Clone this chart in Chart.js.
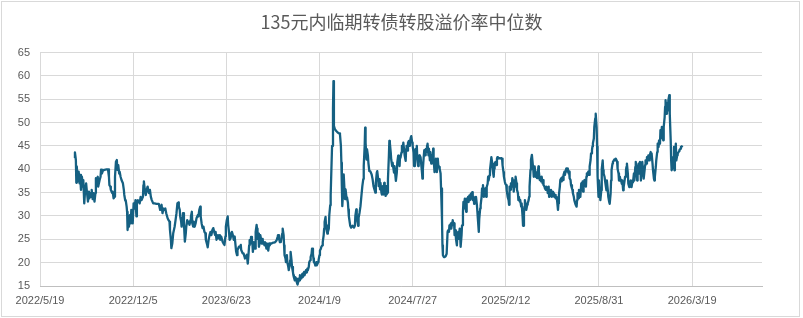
<!DOCTYPE html>
<html>
<head>
<meta charset="utf-8">
<script src="https://cdn.jsdelivr.net/npm/chart.js@4"></script>
<style>
  body { margin: 0; background: #fff; }
  #wrap { position: relative; width: 803px; height: 318px; }
  #frame { position: absolute; left: 1px; top: 1px; width: 799px; height: 316px; box-sizing: border-box; border: 1px solid #d9d9d9; pointer-events: none; }
  canvas { position: absolute; left: 0; top: 0; }
</style>
</head>
<body>
<div id="wrap">
  <canvas id="line_chart" width="803" height="318"></canvas>
  <div id="frame"></div>
</div>
<script>
var title = '135元内临期转债转股溢价率中位数';

// x axis starts on 2022/5/19, one label every 200 days
var axisStart = '2022/5/19';
var tickStep = 200;
var axisDays = 1550;

var yMin = 15;
var yMax = 65;
var yStep = 5;

var dates = [
  '2022/8/1','2022/8/2','2022/8/4','2022/8/5','2022/8/6','2022/8/8','2022/8/10','2022/8/12','2022/8/13','2022/8/15','2022/8/17','2022/8/19','2022/8/20','2022/8/22','2022/8/24','2022/8/26','2022/8/28','2022/8/30',
  '2022/9/1','2022/9/2','2022/9/4','2022/9/6','2022/9/7','2022/9/9','2022/9/11','2022/9/13','2022/9/15','2022/9/16','2022/9/18','2022/9/20','2022/9/21','2022/9/24','2022/9/26','2022/9/27','2022/9/29',
  '2022/10/1','2022/10/4','2022/10/9','2022/10/12','2022/10/14','2022/10/15','2022/10/17','2022/10/18','2022/10/21','2022/10/22','2022/10/24','2022/10/26','2022/10/27','2022/10/29','2022/10/31',
  '2022/11/1','2022/11/3','2022/11/5','2022/11/6','2022/11/8','2022/11/10','2022/11/13','2022/11/15','2022/11/16','2022/11/18','2022/11/19','2022/11/21','2022/11/22','2022/11/23','2022/11/25','2022/11/26','2022/11/28','2022/11/30',
  '2022/12/1','2022/12/3','2022/12/4','2022/12/6','2022/12/8','2022/12/10','2022/12/12','2022/12/13','2022/12/15','2022/12/17','2022/12/19','2022/12/21','2022/12/23','2022/12/26','2022/12/27','2022/12/28','2022/12/30',
  '2023/1/1','2023/1/3','2023/1/5','2023/1/7','2023/1/8','2023/1/10','2023/1/12','2023/1/14','2023/1/17','2023/1/20','2023/1/24','2023/1/29',
  '2023/2/1','2023/2/4','2023/2/6','2023/2/8','2023/2/10','2023/2/12','2023/2/14','2023/2/17','2023/2/19','2023/2/21','2023/2/22','2023/2/24','2023/2/25','2023/2/27',
  '2023/3/1','2023/3/4','2023/3/6','2023/3/8','2023/3/10','2023/3/12','2023/3/13','2023/3/15','2023/3/16','2023/3/18','2023/3/19','2023/3/21','2023/3/22','2023/3/24','2023/3/26','2023/3/28','2023/3/29','2023/3/31',
  '2023/4/2','2023/4/4','2023/4/5','2023/4/7','2023/4/8','2023/4/10','2023/4/11','2023/4/13','2023/4/14','2023/4/16','2023/4/18','2023/4/20','2023/4/23','2023/4/24','2023/4/26','2023/4/28','2023/4/29',
  '2023/5/1','2023/5/3','2023/5/5','2023/5/7','2023/5/9','2023/5/10','2023/5/13','2023/5/14','2023/5/16','2023/5/18','2023/5/20','2023/5/22','2023/5/24','2023/5/26','2023/5/28','2023/5/30','2023/5/31',
  '2023/6/2','2023/6/5','2023/6/7','2023/6/9','2023/6/10','2023/6/12','2023/6/15','2023/6/17','2023/6/19','2023/6/21','2023/6/22','2023/6/24','2023/6/26','2023/6/27','2023/6/29','2023/6/30',
  '2023/7/2','2023/7/5','2023/7/7','2023/7/9','2023/7/11','2023/7/12','2023/7/14','2023/7/16','2023/7/17','2023/7/20','2023/7/22','2023/7/24','2023/7/25','2023/7/28','2023/7/30',
  '2023/8/1','2023/8/2','2023/8/4','2023/8/6','2023/8/8','2023/8/9','2023/8/11','2023/8/12','2023/8/14','2023/8/15','2023/8/17','2023/8/18','2023/8/19','2023/8/21','2023/8/22','2023/8/24','2023/8/25','2023/8/27','2023/8/28','2023/8/29','2023/8/31',
  '2023/9/1','2023/9/3','2023/9/4','2023/9/6','2023/9/7','2023/9/9','2023/9/10','2023/9/11','2023/9/13','2023/9/14','2023/9/16','2023/9/17','2023/9/18','2023/9/20','2023/9/21','2023/9/23','2023/9/24','2023/9/26','2023/9/28','2023/9/30',
  '2023/10/2','2023/10/4','2023/10/6','2023/10/9','2023/10/11','2023/10/12','2023/10/14','2023/10/15','2023/10/16','2023/10/18','2023/10/19','2023/10/21','2023/10/22','2023/10/24','2023/10/25','2023/10/26','2023/10/28','2023/10/29','2023/10/31',
  '2023/11/1','2023/11/3','2023/11/4','2023/11/6','2023/11/7','2023/11/8','2023/11/10','2023/11/11','2023/11/13','2023/11/14','2023/11/15','2023/11/17','2023/11/18','2023/11/20','2023/11/21','2023/11/23','2023/11/24','2023/11/25','2023/11/27','2023/11/28','2023/11/30',
  '2023/12/1','2023/12/3','2023/12/4','2023/12/6','2023/12/7','2023/12/8','2023/12/10','2023/12/11','2023/12/13','2023/12/14','2023/12/15','2023/12/17','2023/12/18','2023/12/20','2023/12/21','2023/12/23','2023/12/24','2023/12/26','2023/12/27','2023/12/28','2023/12/30','2023/12/31',
  '2024/1/2','2024/1/3','2024/1/5','2024/1/6','2024/1/7','2024/1/9','2024/1/10','2024/1/12','2024/1/13','2024/1/15','2024/1/16','2024/1/18','2024/1/19','2024/1/20','2024/1/22','2024/1/23','2024/1/25','2024/1/26','2024/1/27','2024/1/29','2024/1/30',
  '2024/2/1','2024/2/2','2024/2/5','2024/2/7','2024/2/8','2024/2/9','2024/2/11','2024/2/14','2024/2/17','2024/2/20','2024/2/22','2024/2/24','2024/2/25','2024/2/26','2024/2/27','2024/2/29',
  '2024/3/1','2024/3/3','2024/3/4','2024/3/5','2024/3/7','2024/3/8','2024/3/10','2024/3/11','2024/3/12','2024/3/14','2024/3/15','2024/3/17','2024/3/18','2024/3/20','2024/3/23','2024/3/25','2024/3/26','2024/3/28','2024/3/29','2024/3/31',
  '2024/4/1','2024/4/2','2024/4/4','2024/4/6','2024/4/8','2024/4/10','2024/4/12','2024/4/13','2024/4/15','2024/4/16','2024/4/17','2024/4/19','2024/4/20','2024/4/22','2024/4/23','2024/4/25','2024/4/27','2024/4/30',
  '2024/5/2','2024/5/4','2024/5/6','2024/5/8','2024/5/9','2024/5/11','2024/5/12','2024/5/14','2024/5/15','2024/5/17','2024/5/18','2024/5/19','2024/5/21','2024/5/22','2024/5/24','2024/5/25','2024/5/27','2024/5/28','2024/5/30','2024/5/31',
  '2024/6/1','2024/6/3','2024/6/4','2024/6/6','2024/6/7','2024/6/8','2024/6/10','2024/6/11','2024/6/13','2024/6/14','2024/6/16','2024/6/17','2024/6/18','2024/6/20','2024/6/21','2024/6/23','2024/6/24','2024/6/26','2024/6/27','2024/6/29','2024/6/30',
  '2024/7/1','2024/7/3','2024/7/4','2024/7/6','2024/7/7','2024/7/8','2024/7/10','2024/7/12','2024/7/13','2024/7/14','2024/7/16','2024/7/17','2024/7/19','2024/7/20','2024/7/21','2024/7/23','2024/7/24','2024/7/26','2024/7/27','2024/7/29','2024/7/30',
  '2024/8/1','2024/8/2','2024/8/3','2024/8/5','2024/8/6','2024/8/8','2024/8/9','2024/8/11','2024/8/13','2024/8/16','2024/8/17','2024/8/18','2024/8/20','2024/8/21','2024/8/23','2024/8/24','2024/8/26','2024/8/27','2024/8/28','2024/8/30','2024/8/31',
  '2024/9/2','2024/9/3','2024/9/5','2024/9/6','2024/9/8','2024/9/9','2024/9/10','2024/9/12','2024/9/13','2024/9/15','2024/9/16','2024/9/17','2024/9/19','2024/9/20','2024/9/22','2024/9/23','2024/9/25','2024/9/26','2024/9/28','2024/9/29','2024/9/30',
  '2024/10/2','2024/10/4','2024/10/6','2024/10/8','2024/10/10','2024/10/11','2024/10/13','2024/10/14','2024/10/15','2024/10/17','2024/10/18','2024/10/20','2024/10/21','2024/10/23','2024/10/24','2024/10/25','2024/10/27','2024/10/28','2024/10/30','2024/10/31',
  '2024/11/2','2024/11/3','2024/11/5','2024/11/6','2024/11/7','2024/11/9','2024/11/10','2024/11/12','2024/11/13','2024/11/14','2024/11/16','2024/11/17','2024/11/19','2024/11/20','2024/11/22','2024/11/23','2024/11/24','2024/11/26','2024/11/27','2024/11/29','2024/11/30',
  '2024/12/2','2024/12/3','2024/12/5','2024/12/6','2024/12/7','2024/12/9','2024/12/10','2024/12/12','2024/12/13','2024/12/14','2024/12/16','2024/12/17','2024/12/19','2024/12/20','2024/12/22','2024/12/23','2024/12/25','2024/12/26','2024/12/27','2024/12/29','2024/12/30',
  '2025/1/1','2025/1/2','2025/1/4','2025/1/5','2025/1/6','2025/1/8','2025/1/9','2025/1/11','2025/1/12','2025/1/14','2025/1/15','2025/1/17','2025/1/18','2025/1/19','2025/1/21','2025/1/22','2025/1/24','2025/1/25','2025/1/26','2025/1/29','2025/1/31',
  '2025/2/2','2025/2/4','2025/2/5','2025/2/7','2025/2/8','2025/2/10','2025/2/11','2025/2/13','2025/2/14','2025/2/16','2025/2/18','2025/2/19','2025/2/20','2025/2/22','2025/2/23','2025/2/25','2025/2/26','2025/2/28',
  '2025/3/1','2025/3/3','2025/3/4','2025/3/5','2025/3/7','2025/3/8','2025/3/10','2025/3/11','2025/3/12','2025/3/14','2025/3/15','2025/3/17','2025/3/18','2025/3/20','2025/3/21','2025/3/23','2025/3/24','2025/3/25','2025/3/27','2025/3/28','2025/3/30','2025/3/31',
  '2025/4/2','2025/4/3','2025/4/4','2025/4/6','2025/4/7','2025/4/9','2025/4/10','2025/4/12','2025/4/13','2025/4/15','2025/4/16','2025/4/17','2025/4/19','2025/4/20','2025/4/22','2025/4/23','2025/4/24','2025/4/26','2025/4/27','2025/4/29','2025/4/30',
  '2025/5/2','2025/5/3','2025/5/4','2025/5/6','2025/5/7','2025/5/9','2025/5/10','2025/5/12','2025/5/13','2025/5/15','2025/5/16','2025/5/17','2025/5/19','2025/5/20','2025/5/22','2025/5/23','2025/5/24','2025/5/26','2025/5/27','2025/5/29','2025/5/30',
  '2025/6/1','2025/6/2','2025/6/4','2025/6/5','2025/6/6','2025/6/8','2025/6/9','2025/6/11','2025/6/12','2025/6/14','2025/6/15','2025/6/16','2025/6/18','2025/6/19','2025/6/21','2025/6/22','2025/6/24','2025/6/25','2025/6/27','2025/6/28','2025/6/29',
  '2025/7/1','2025/7/2','2025/7/4','2025/7/5','2025/7/6','2025/7/8','2025/7/9','2025/7/11','2025/7/12','2025/7/14','2025/7/15','2025/7/16','2025/7/18','2025/7/19','2025/7/21','2025/7/22','2025/7/24','2025/7/25','2025/7/27','2025/7/28','2025/7/29','2025/7/31',
  '2025/8/1','2025/8/3','2025/8/4','2025/8/5','2025/8/7','2025/8/8','2025/8/10','2025/8/11','2025/8/13','2025/8/14','2025/8/16','2025/8/17','2025/8/18','2025/8/20','2025/8/21','2025/8/23','2025/8/24','2025/8/26','2025/8/27','2025/8/28','2025/8/30','2025/8/31',
  '2025/9/2','2025/9/3','2025/9/5','2025/9/6','2025/9/8','2025/9/9','2025/9/10','2025/9/12','2025/9/13','2025/9/15','2025/9/16','2025/9/17','2025/9/19','2025/9/20','2025/9/22','2025/9/23','2025/9/25','2025/9/26','2025/9/27','2025/9/29','2025/9/30',
  '2025/10/2','2025/10/3','2025/10/5','2025/10/6','2025/10/8','2025/10/9','2025/10/10','2025/10/12','2025/10/13','2025/10/15','2025/10/16','2025/10/17','2025/10/19','2025/10/20','2025/10/22','2025/10/23','2025/10/25','2025/10/26','2025/10/28','2025/10/29','2025/10/30',
  '2025/11/1','2025/11/2','2025/11/4','2025/11/5','2025/11/7','2025/11/8','2025/11/9','2025/11/11','2025/11/12','2025/11/14','2025/11/15','2025/11/17','2025/11/18','2025/11/20','2025/11/21','2025/11/22','2025/11/24','2025/11/25','2025/11/27','2025/11/28','2025/11/29',
  '2025/12/1','2025/12/2','2025/12/4','2025/12/5','2025/12/7','2025/12/8','2025/12/9','2025/12/11','2025/12/12','2025/12/14','2025/12/15','2025/12/17','2025/12/18','2025/12/20','2025/12/21','2025/12/22','2025/12/24','2025/12/25','2025/12/27','2025/12/28','2025/12/29','2025/12/31',
  '2026/1/1','2026/1/3','2026/1/4','2026/1/6','2026/1/7','2026/1/9','2026/1/10','2026/1/11','2026/1/13','2026/1/14','2026/1/16','2026/1/17','2026/1/19','2026/1/20','2026/1/21','2026/1/23','2026/1/24','2026/1/26','2026/1/27','2026/1/29','2026/1/30',
  '2026/2/1','2026/2/2','2026/2/3','2026/2/5','2026/2/6','2026/2/8','2026/2/9','2026/2/10','2026/2/12','2026/2/13','2026/2/15','2026/2/16','2026/2/18','2026/2/19','2026/2/20','2026/2/22','2026/2/23','2026/2/25','2026/2/26'
];

var premium = [
  42.4,43.6,42,37.1,40.6,37.4,39.5,37,38.8,35.6,38.4,36.3,37.7,32.7,35.6,37,34.9,33.1,
  35.2,33.8,34.9,34.1,35.6,33.6,34.9,33.1,34.9,38.1,37,38.4,36.3,37.7,38.4,39.9,39.1,
  39.7,39.9,40,40,38.4,36.6,36.3,35.6,34.9,35.2,33.8,34.1,38.4,41.6,42,
  39.9,40.9,39.1,39.5,38.4,37.7,37,35.6,34.5,33.3,33.4,32,30.9,27,29.1,27.7,30.2,28.4,
  31.3,29.1,28.4,32.7,31.6,33.4,29.9,33.1,33.4,33.1,32.7,34.1,33.4,34.1,36.6,37.4,35.6,
  34.5,35.6,36.3,35.2,34.9,35.6,34.1,33.4,32.7,32.7,32.6,32.6,
  31.3,32.4,30.6,31.6,31.3,31.6,30.6,29.5,29.1,28.8,27,24.9,23.1,24.1,
  26.3,27.7,29.1,30.6,32.7,32.9,32,31.3,29.9,28.8,27.7,29.1,30.6,28.4,24.5,26.3,27.7,29.1,
  28.4,28.8,28.1,29.1,29.9,30.9,28.4,27.7,28.8,27.7,28.4,29.5,30.2,29.9,31.3,32,29.9,
  28.4,27.4,27.7,26.6,26.3,24.9,23.8,23.3,24.9,25.9,26.6,25.9,27,27.4,26.6,25.9,26.6,
  24.9,25.9,25.2,25.9,24.9,25.6,24.5,24.1,23.8,25.6,27.7,29.1,29.9,28.1,26.3,24.9,
  25.2,26.6,25.9,24.9,25.6,24.5,22.4,21.6,22.7,23.4,23.3,23.8,22.7,22,22,
  21.3,20.9,21.2,21.7,19.8,20.9,23.7,24.8,24.1,25.5,24.4,24.1,22.3,24.4,23.7,23,26.6,28.1,27.3,25.1,26.2,
  23.4,24.4,25.9,24.8,24.1,25.1,24.1,24.4,23.7,24.4,23.7,23,24.1,23.4,22.6,24.1,23.7,24.1,24.1,24.2,
  24.3,24.3,24.4,24.8,25.5,25.9,25.1,24.8,24.4,24.4,25.1,26.2,27.3,25.9,23.7,21.6,20.9,20.1,21.6,
  20.1,19.1,18.4,19.4,20.5,22.3,20.5,19.1,18,17.3,16.9,16.2,16.9,16.6,15.9,15.3,15.9,16.6,16.2,17.3,16.9,
  16.6,17.6,16.9,17.6,18,17.3,18,18.4,17.9,18.7,18.4,19.1,20.1,20.5,21.2,21.9,23,21.9,20.9,20.1,19.8,19.4,
  20.1,19.4,19.8,20.1,20.5,21.6,22.6,23,23.4,23.7,24.4,25.9,27.3,28.7,29.8,28,26.6,26.2,26.6,27.3,30.1,
  32.3,34.4,45,53,58.9,49.3,48.6,48.2,47.9,47.7,47.5,45,41.4,36.4,32.1,35.7,
  38.9,35,33.6,35.7,33.9,34,32.9,31.4,30,28.6,27.9,27.5,27.5,27.9,27.5,27.9,30,31.4,29.6,28.6,
  27.9,29.6,30.7,32.1,34.3,36.4,37.9,40.7,45,48.9,45.7,42.1,44.3,42.9,41.4,39.6,39.6,38.9,
  37.9,36.4,35.7,35,37.1,39.3,39.6,37.9,36.4,37.9,35.7,37.1,35,34.6,36.4,34.6,37.1,35,34.3,36.4,
  34.6,35,37.9,42.9,46.1,45.7,43.6,42.1,40.7,41.4,40,39.3,40.7,38.6,37.5,39.3,41.4,42.9,42.1,40.7,42.9,
  42.5,43.6,45,44.3,45.7,45.7,42.9,41.8,44.3,45,44,45.7,46.1,45,45.7,46.8,47.1,45.7,45,43.6,40.7,
  42.1,44.3,42.9,45,42.1,40.7,42.9,43,42.6,39.4,38,40.1,43,44.1,43,44.3,43.7,45.1,45.5,43,44.4,
  41.9,43.7,41.2,43,41.6,44.4,42.3,39.4,41.2,42.3,41.6,39.4,42.3,40.9,40.5,40.1,39.1,35.9,29.4,23.7,21.6,
  21.2,21.2,21.4,21.9,26.6,26.9,26.6,28,27.3,28.4,27.3,28.7,29.1,28,28.4,25.9,26.9,25.1,23.7,25.9,
  26.6,25.1,27.3,25.9,23.4,25.9,28,30.9,33,31.6,33.7,32.3,30.9,33.7,33,34.1,33,34.4,33.4,34.8,33.7,
  35.1,33.4,34.1,32.6,33.7,33,34.1,32.3,30.9,29.4,26.6,29.4,31.6,32.3,34.1,35.9,36.6,35.1,34.1,35.1,35.9,
  34.1,36.2,36.9,38.4,37.6,38.7,39.8,41.6,42.6,41.2,39.8,38.4,40.1,41.2,41.6,40.9,42.3,42.6,42.3,42.4,42.3,
  42.4,42.3,40.9,39.4,38.4,37.3,36.9,36.6,35.5,34.1,33.4,32.4,36.3,35.6,37,36.3,38.1,37,
  35.2,37.7,36.3,38.4,37,35.6,34.9,33.4,34.1,33.1,33.4,32,32.7,29.9,27.9,30.6,32,33.4,32,31.3,32.4,32.7,
  33.4,34.1,36.3,39.9,42,43.1,42,39.9,38.4,40.6,39.5,38.4,39.1,38.1,39.5,40.6,39.5,37.7,38.4,37.4,38.4,
  37,37.7,36.6,36.3,35.9,35.6,36.3,35.9,34.9,36.3,34.1,35.6,34.5,35.6,34.1,34.5,35.2,34.9,34.1,34.5,33.8,
  34.1,33.4,31.3,32.7,34.5,36.3,37.7,38.1,37.4,38.4,37.7,38.8,39.5,38.8,39.9,40.2,39.5,40.2,39.1,39.5,38.1,
  37.7,36.6,35.9,35.6,34.9,34.1,33.4,32.7,32.4,32,33.4,34.9,33.8,35.6,34.9,34.1,37,35.9,37.4,35.2,37,37.7,
  36.6,36.3,38.4,39.1,38.8,39.5,38.8,40.6,42,43.4,44.1,44.9,45.6,46.6,49.1,50.9,51.9,49,44.9,38.5,34.1,37.6,
  34.8,33.4,35.5,40.1,41.9,39.8,39.1,38.4,37.6,36.2,35.5,37.6,35.5,34.1,33,32.6,34.8,37.6,39.8,41.2,41.6,
  41.9,42.1,41.9,42.3,41.9,41.6,40.1,39.1,37.6,38.4,37.6,37.8,36.9,37.6,35.5,36.2,37.6,38.4,39.8,40.5,41.2,
  39.1,36.9,36.2,36.9,37.6,36.9,36.2,37.6,37.2,39.1,37.6,40.5,41.6,39.1,37.6,39.8,41.2,39.1,41.6,40.5,37.6,
  40.5,41.6,39.1,38,39.8,40.9,41.9,41.2,42.6,41.9,43,41.9,43,43.7,42.6,43.4,41.2,39.8,38,37.6,38.4,40.5,
  41.9,43.7,45.5,44.8,46.2,45.5,48.4,46.6,49.1,47.6,46.2,49.1,51.2,53.4,54.8,51.9,54.1,52.6,54.8,55.9,51.9,
  46.2,41.9,39.8,40.5,42.6,44.8,39.8,42.6,45.5,41.9,43,43.4,43.7,43.9,44.2,44.4,44.8,44.9,45.1
];

function dayNumber(s) {
  var p = s.split('/');
  return Date.UTC(+p[0], +p[1] - 1, +p[2]) / 864e5;
}

var startDay = dayNumber(axisStart);

function dayLabel(v) {
  var d = new Date((startDay + v) * 864e5);
  return d.getUTCFullYear() + '/' + (d.getUTCMonth() + 1) + '/' + d.getUTCDate();
}

var points = [];
for (var i = 0; i < dates.length; i++) {
  points.push({ x: dayNumber(dates[i]) - startDay, y: premium[i] });
}

var labelFont = { family: "'Liberation Sans', Arial, sans-serif", size: 11 };

var chart = new Chart(document.getElementById('line_chart'), {
  type: 'line',
  data: {
    datasets: [{
      label: title,
      data: points,
      borderColor: '#156082',
      borderWidth: 2.3,
      borderJoinStyle: 'round',
      pointRadius: 0,
      tension: 0,
      fill: false
    }]
  },
  options: {
    responsive: false,
    animation: false,
    devicePixelRatio: 1,
    layout: { padding: 0 },
    plugins: {
      legend: { display: false },
      tooltip: { enabled: false },
      title: {
        display: true,
        text: title,
        color: '#595959',
        font: { family: "'Noto Sans CJK SC', 'Noto Sans', sans-serif", size: 18, weight: 'normal' },
        padding: { top: 11, bottom: 20 }
      }
    },
    scales: {
      x: {
        type: 'linear',
        min: 0,
        max: axisDays,
        afterFit: function(s) { s.height = 32; },
        afterBuildTicks: function(s) {
          s.ticks = s.ticks.filter(function(t) { return t.value % tickStep === 0; });
        },
        ticks: {
          stepSize: tickStep,
          maxRotation: 0,
          autoSkip: false,
          padding: 8,
          color: '#595959',
          font: labelFont,
          callback: function(v) { return dayLabel(v); }
        },
        grid: { color: '#d9d9d9', lineWidth: 1, drawTicks: false },
        border: { display: true, color: '#bfbfbf', width: 1 }
      },
      y: {
        min: yMin,
        max: yMax,
        afterFit: function(s) { s.width = 40; },
        ticks: {
          stepSize: yStep,
          padding: 10,
          color: '#595959',
          font: labelFont
        },
        grid: { color: '#d9d9d9', lineWidth: 1, drawTicks: false },
        border: { display: false }
      },
      // empty right-hand margin so the title stays centred on the whole picture
      yRight: {
        position: 'right',
        min: yMin,
        max: yMax,
        afterFit: function(s) { s.width = 41; },
        ticks: { display: false },
        grid: { display: false, drawOnChartArea: false },
        border: { display: false }
      }
    }
  }
});
</script>
</body>
</html>
